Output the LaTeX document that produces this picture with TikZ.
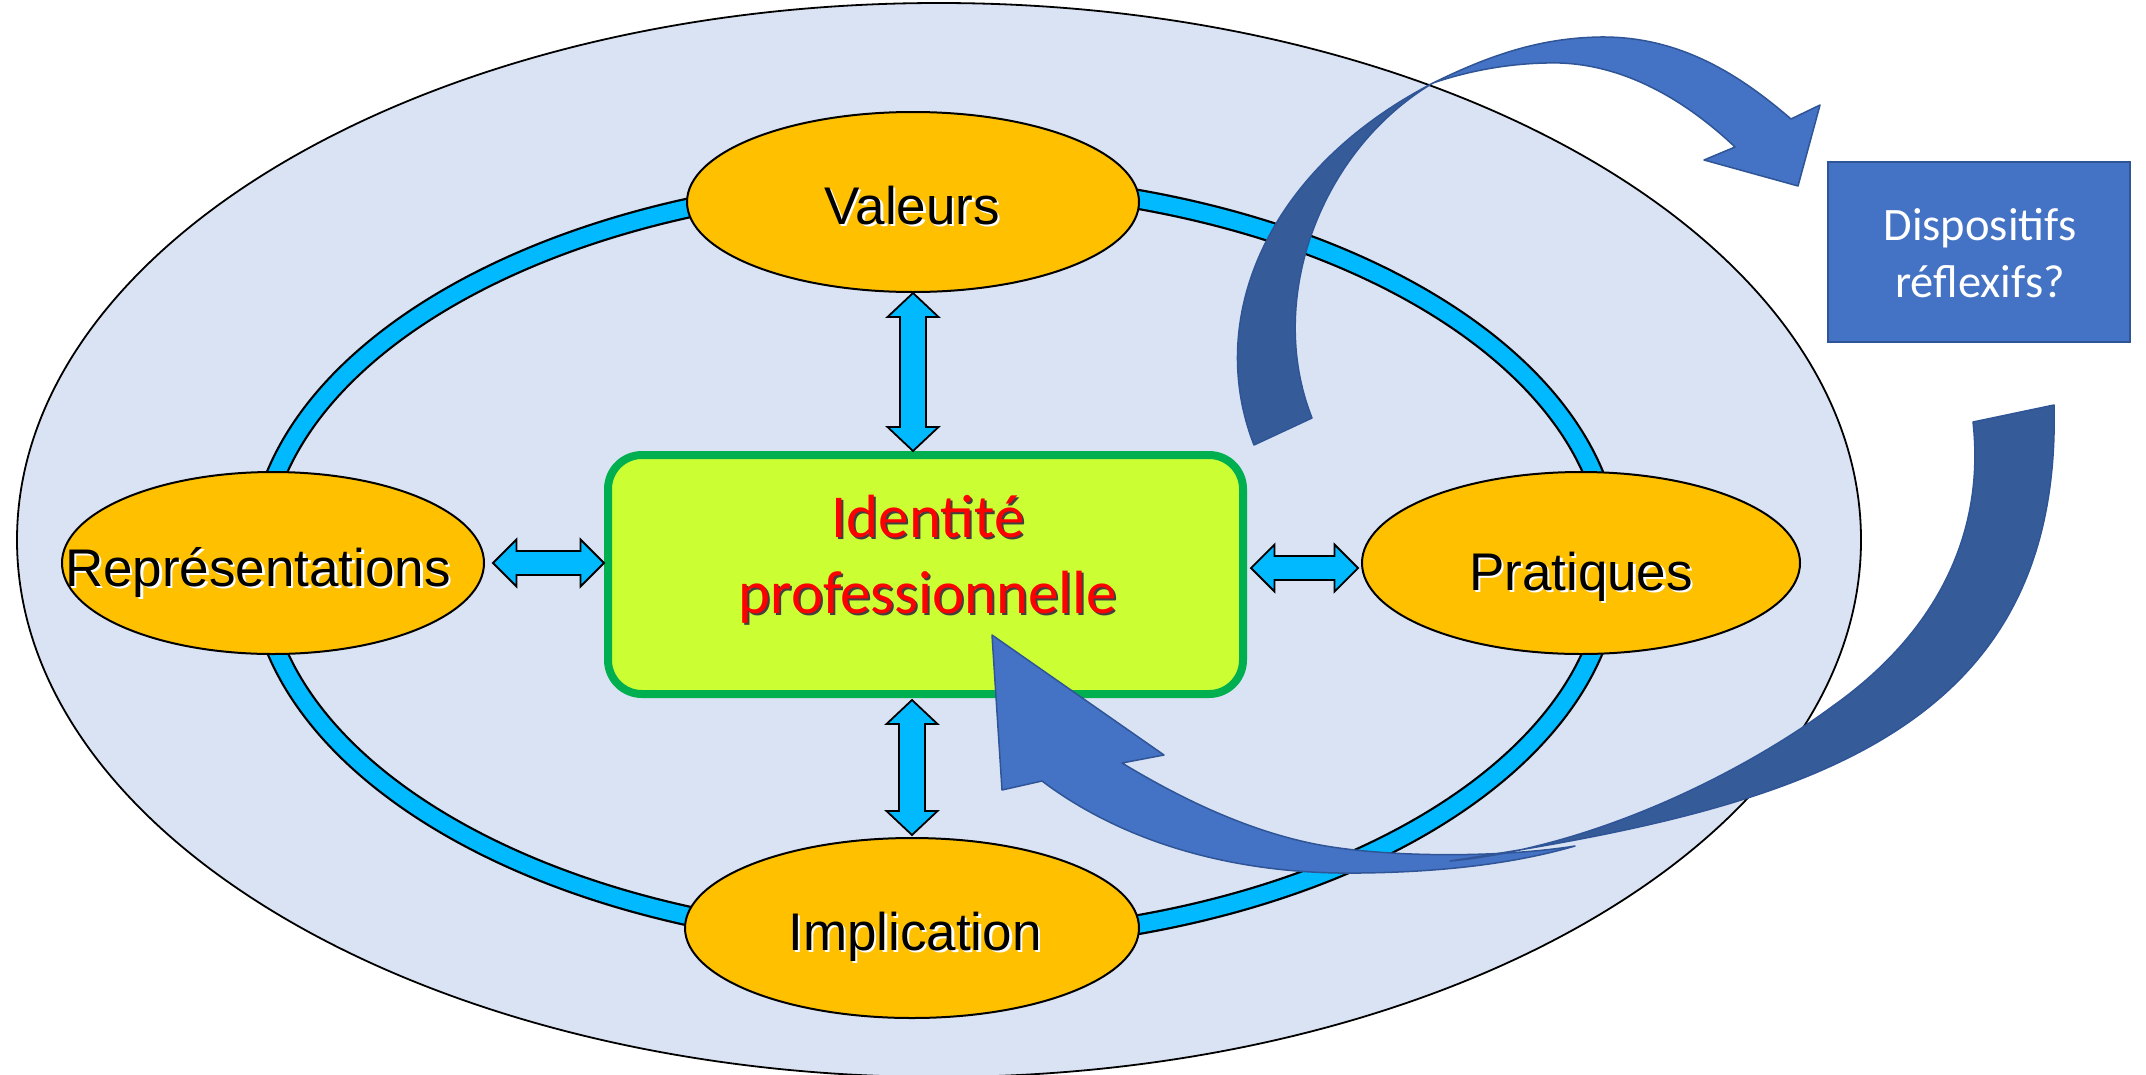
\documentclass[tikz,border=0pt]{standalone}
\usepackage{fontspec}
\newfontfamily\arialf{Liberation Sans}
\newfontfamily\calf{Carlito}
\usetikzlibrary{calc,shapes.geometric}
\definecolor{bgell}{HTML}{DAE3F3}
\definecolor{ringc}{HTML}{00B9FF}
\definecolor{orng}{HTML}{FFC000}
\definecolor{lime}{HTML}{CCFF33}
\definecolor{grn}{HTML}{00B050}
\definecolor{blueL}{HTML}{4472C4}
\definecolor{blueD}{HTML}{355B99}
\definecolor{blueO}{HTML}{2F5597}
\newcommand{\shtext}[4]{\rlap{\kern#4\raisebox{-#4}{\textcolor{#1}{#3}}}\textcolor{#2}{#3}}
\begin{document}
\begin{tikzpicture}[x=1pt,y=-1pt,
  oval/.style={ellipse, draw=black, line width=2pt, fill=orng, inner sep=0pt},
  lbl/.style={font=\arialf\fontsize{53}{62}\selectfont, anchor=base, inner sep=0pt},
  idtxt/.style={font=\calf\fontsize{61}{74}\selectfont, anchor=base, inner sep=0pt},
  dtxt/.style={font=\calf\fontsize{46.5}{56}\selectfont, text=white, anchor=base, inner sep=0pt},
  dblarrow/.style={fill=ringc, draw=black, line width=1.8pt, line join=miter},
  bendD/.style={fill=blueD, draw=blueO, line width=1.5pt, line join=round},
  bendL/.style={fill=blueL, draw=blueO, line width=1.5pt, line join=round}]

\fill[white] (0,0) rectangle (2146,1074);
\useasboundingbox (0,0) rectangle (2146,1074);

% big background ellipse
\draw[fill=bgell, line width=1.8pt] (939,540) ellipse [x radius=922pt, y radius=537pt];

% ring
\draw[line width=21pt] (935,562) ellipse [x radius=677pt, y radius=380pt];
\draw[ringc, line width=16.5pt] (935,562) ellipse [x radius=677pt, y radius=380pt];

% ellipses
\node[oval, minimum width=452pt, minimum height=180pt] (val) at (913,202) {};
\node[oval, minimum width=422pt, minimum height=182pt] (rep) at (273,563) {};
\node[oval, minimum width=438pt, minimum height=182pt] (prat) at (1581,563) {};
\node[oval, minimum width=454pt, minimum height=180pt] (imp) at (912,928) {};

% central box
\node[draw=grn, fill=lime, line width=8pt, rounded corners=34pt, minimum width=635pt, minimum height=239pt, inner sep=0pt] (id) at (925.5,574.5) {};

% double arrows
\draw[dblarrow] let \p1=(val.south), \p2=(id.north) in
  (\x1,\y1) -- (\x1+25.5pt,\y1-24pt) -- (\x1+13pt,\y1-24pt) -- (\x1+13pt,\y2+24pt) -- (\x1+25.5pt,\y2+24pt) -- (\x1,\y2)
  -- (\x1-25.5pt,\y2+24pt) -- (\x1-13pt,\y2+24pt) -- (\x1-13pt,\y1-24pt) -- (\x1-25.5pt,\y1-24pt) -- cycle;
\draw[dblarrow] let \p1=(id.south), \p2=(imp.north) in
  (\x2,\y1-2pt) -- (\x2+25.5pt,\y1-26pt) -- (\x2+13pt,\y1-26pt) -- (\x2+13pt,\y2+26pt) -- (\x2+25.5pt,\y2+26pt) -- (\x2,\y2+2pt)
  -- (\x2-25.5pt,\y2+26pt) -- (\x2-13pt,\y2+26pt) -- (\x2-13pt,\y1-26pt) -- (\x2-25.5pt,\y1-26pt) -- cycle;
\draw[dblarrow] let \p1=(rep.east), \p2=(id.west) in
  (\x1+8pt,\y1) -- (\x1+31.5pt,\y1+23.5pt) -- (\x1+31.5pt,\y1+12pt) -- (\x2-23.5pt,\y1+12pt) -- (\x2-23.5pt,\y1+23.5pt) -- (\x2,\y1)
  -- (\x2-23.5pt,\y1-23.5pt) -- (\x2-23.5pt,\y1-12pt) -- (\x1+31.5pt,\y1-12pt) -- (\x1+31.5pt,\y1-23.5pt) -- cycle;
\draw[dblarrow] let \p1=(id.east), \p2=(prat.west) in
  (\x1+4pt,\y2-5pt) -- (\x1+27.5pt,\y2+18.5pt) -- (\x1+27.5pt,\y2+7pt) -- (\x2-26.5pt,\y2+7pt) -- (\x2-26.5pt,\y2+18.5pt) -- (\x2-3pt,\y2-5pt)
  -- (\x2-26.5pt,\y2-28.5pt) -- (\x2-26.5pt,\y2-17pt) -- (\x1+27.5pt,\y2-17pt) -- (\x1+27.5pt,\y2-28.5pt) -- cycle;

% labels
\node[lbl] (valT) at (912,224) {\shtext{white}{black}{Valeurs}{2.5pt}};
\node[lbl] (repT) at (258,586) {\shtext{white}{black}{Représentations}{2.5pt}};
\node[lbl] (pratT) at (1581,590) {\shtext{white}{black}{Pratiques}{2.5pt}};
\node[lbl] (impT) at (915,950) {\shtext{white}{black}{Implication}{2.5pt}};
\node[idtxt] (id1) at (928,537) {\shtext{black!75}{red}{Identité}{2pt}};
\node[idtxt] (id2) at (928,613) {\shtext{black!75}{red}{professionnelle}{2pt}};

% Dispositifs box
\node[fill=blueL, draw=blueO, line width=2.5pt, minimum width=302pt, minimum height=180pt, inner sep=0pt] (disp) at (1979,252) {};
\node[dtxt] (d1) at (1980,240) {Dispositifs};
\node[dtxt] (d2) at (1980,297) {réflexifs?};

% top curved arrow
\draw[bendD] (1254,445) .. controls (1205,320) and (1265,170) .. (1433,83)
  .. controls (1320,150) and (1265,300) .. (1312,418) -- cycle;
\draw[bendL] (1433,83) .. controls (1490,55) and (1540,38) .. (1600,37)
  .. controls (1680,36) and (1740,75) .. (1791,119)
  -- (1820,105) -- (1798,186) -- (1704,160) -- (1735,147)
  .. controls (1680,95) and (1620,65) .. (1560,63)
  .. controls (1510,62) and (1465,72) .. (1433,83) -- cycle;

% bottom curved arrow
\draw[bendL] (1575,846) .. controls (1500,858) and (1380,858) .. (1310,843)
  .. controls (1240,828) and (1175,795) .. (1122,763)
  -- (1164,755) -- (992,635) -- (1002,790) -- (1042,781)
  .. controls (1120,840) and (1230,875) .. (1360,873)
  .. controls (1450,872) and (1520,862) .. (1575,846) -- cycle;
\draw[bendD] (1973,422) .. controls (1985,530) and (1940,630) .. (1833,706)
  .. controls (1740,775) and (1590,848) .. (1450,861)
  .. controls (1800,808) and (2062,735) .. (2054,405) -- cycle;
\end{tikzpicture}
\end{document}
